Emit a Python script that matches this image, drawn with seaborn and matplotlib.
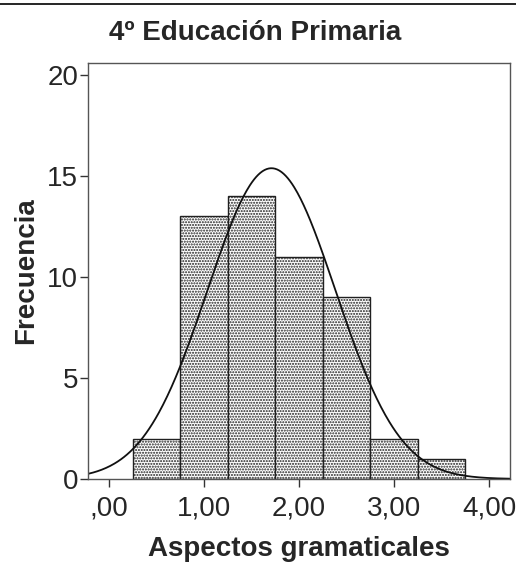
import numpy as np
import pandas as pd
import matplotlib
matplotlib.use("Agg")
import matplotlib.pyplot as plt
from matplotlib.lines import Line2D
import seaborn as sns

# Histogram bins (lower/upper edges) and frequencies
bin_edges = [0.25, 0.75, 1.25, 1.75, 2.25, 2.75, 3.25, 3.75]
frequencies = [2, 13, 14, 11, 9, 2, 1]
# Summary statistics for the fitted normal curve
mean_value = 1.71
std_value = 0.674
x_ticks = [0, 1, 2, 3, 4]
x_tick_labels = [",00", "1,00", "2,00", "3,00", "4,00"]
y_ticks = [0, 5, 10, 15, 20]

sns.set_style("white")
plt.rcParams["font.family"] = ["Liberation Sans", "DejaVu Sans"]
plt.rcParams["hatch.color"] = "#a8a8a8"
plt.rcParams["hatch.linewidth"] = 1.0

fig = plt.figure(figsize=(5.16, 5.65), dpi=100)
ax = fig.add_axes([88 / 516, 1 - 479 / 565, (510 - 88) / 516, (479 - 63) / 565])

centers = [(a + b) / 2 for a, b in zip(bin_edges[:-1], bin_edges[1:])]
df = pd.DataFrame({"valor": centers, "n": frequencies})
sns.histplot(data=df, x="valor", weights="n", bins=bin_edges, ax=ax,
             color="white", edgecolor="#202020", linewidth=1.0, alpha=1.0)
for p in ax.patches:
    p.set_hatch("......")
    p.set_facecolor("white")

# Normal curve scaled to counts
n_total = sum(frequencies)
width = bin_edges[1] - bin_edges[0]
xs = np.linspace(-0.22, 4.22, 400)
ys = n_total * width / (std_value * np.sqrt(2 * np.pi)) * np.exp(-0.5 * ((xs - mean_value) / std_value) ** 2)
sns.lineplot(x=xs, y=ys, ax=ax, color="#111111", linewidth=1.3)

ax.set_xlim(-0.22, 4.22)
ax.set_ylim(0, 20.6)
ax.set_xticks(x_ticks)
ax.set_xticklabels(x_tick_labels)
ax.set_yticks(y_ticks)
ax.tick_params(axis="both", direction="out", length=6, width=1, color="#333333",
               labelsize=20, bottom=True, left=True)
ax.tick_params(axis="x", pad=6)
ax.tick_params(axis="y", pad=1)
for s in ax.spines.values():
    s.set_visible(True)
    s.set_color("#555555")
    s.set_linewidth(1.0)

ax.set_xlabel("Aspectos gramaticales", fontsize=20, fontweight="bold", labelpad=10)
ax.set_ylabel("Frecuencia", fontsize=20, fontweight="bold", labelpad=6)
fig.text(0.494, 1 - 33 / 565, "4º Educación Primaria", ha="center", va="center",
         fontsize=20, fontweight="bold")
fig.add_artist(Line2D([0, 1], [1 - 4 / 565, 1 - 4 / 565], color="black", linewidth=1.2,
                      transform=fig.transFigure))

fig.savefig("out.png", dpi=100)
